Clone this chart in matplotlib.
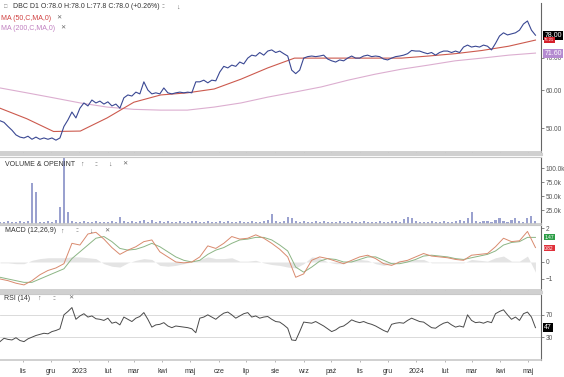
import matplotlib

matplotlib.use("Agg")
import matplotlib.pyplot as plt
import matplotlib.ticker as mticker
import pandas as pd

plt.rcParams["font.family"] = ["Liberation Sans", "DejaVu Sans"]

START = "2022-10-07"
END = "2024-05-09"
XLIM_END = "2024-05-15"

# cena zamknięcia (DBC, D1)
close = [
    51.8, 51.4, 50.4, 49.5, 48.4, 47.9, 47.7, 48.1, 47.4, 47.9,
    47.4, 47.7, 47.4, 47.7, 47.2, 47.7, 50.4, 52.0, 54.0, 52.5,
    55.0, 56.4, 55.6, 57.2, 56.4, 56.9, 56.1, 56.7, 55.6, 56.1,
    55.0, 57.8, 58.6, 58.3, 59.4, 58.9, 62.4, 60.0, 58.9, 59.2,
    58.9, 60.6, 59.2, 58.9, 59.2, 59.4, 59.2, 59.4, 59.2, 62.4,
    62.4, 62.9, 62.1, 62.9, 62.7, 65.4, 67.2, 66.7, 67.6, 67.2,
    68.6, 68.0, 69.9, 70.9, 70.6, 71.8, 70.9, 72.3, 72.7, 71.8,
    72.3, 71.4, 70.6, 66.0, 64.9, 66.0, 69.9, 70.4, 70.6, 70.4,
    70.6, 70.9, 69.6, 69.0, 68.6, 69.3, 69.0, 69.9, 70.6, 69.9,
    69.9, 70.6, 70.9, 70.4, 70.6, 70.4, 69.6, 69.3, 69.9, 70.4,
    70.6, 70.9, 71.4, 72.5, 72.3, 72.3, 71.8, 71.4, 71.8, 70.9,
    71.8, 72.3, 72.3, 71.8, 72.3, 71.8, 73.7, 74.4, 73.7, 74.0,
    73.7, 74.4, 74.0, 72.7, 75.0, 77.7, 78.9, 78.1, 78.5, 78.9,
    79.9, 82.3, 83.5, 79.9, 78.0,
]
ma50 = [
    55.0, 52.3, 49.2, 49.3, 52.5, 56.6, 58.6, 59.2, 60.3, 63.2,
    66.7, 69.9, 69.9, 69.9, 69.9, 69.9, 70.6, 71.4, 72.5, 74.0, 76.2,
]
ma200 = [
    60.6, 59.2, 57.8, 56.4, 55.3, 54.7, 54.5, 54.5, 55.3, 56.4,
    58.0, 59.4, 60.9, 62.9, 64.7, 66.3, 67.6, 69.0, 69.9, 70.9, 71.6,
]
volume_k = [
    4, 3, 5, 3, 4, 6, 3, 5, 73, 57,
    4, 3, 5, 4, 8, 30, 130, 22, 6, 4,
    3, 5, 3, 4, 6, 3, 4, 3, 5, 4,
    12, 5, 3, 6, 4, 5, 8, 4, 7, 4,
    6, 3, 5, 4, 3, 5, 4, 3, 6, 5,
    4, 3, 5, 4, 3, 6, 4, 5, 3, 4,
    5, 3, 4, 6, 4, 3, 5, 8, 18, 5,
    4, 6, 12, 10, 6, 4, 5, 3, 4, 6,
    3, 5, 4, 3, 4, 5, 3, 4, 6, 4,
    3, 5, 4, 3, 4, 5, 3, 4, 6, 5,
    4, 9, 12, 10, 5, 3, 4, 3, 5, 4,
    3, 6, 4, 3, 5, 7, 5, 10, 21, 6,
    4, 5, 6, 4, 7, 10, 5, 4, 8, 11,
    6, 4, 10, 14, 5,
]
macd_line = [
    -1.0, -1.1, -1.25, -1.35, -1.1, -0.75, -0.5, -0.35, -0.1, 1.1,
    1.0, 1.65, 1.75, 1.35, 0.85, 0.45, 0.7, 0.9, 1.2, 1.3,
    0.6, 0.3, 0.0, -0.05, 0.0, 0.3, 0.95, 0.8, 1.1, 1.5,
    1.35, 1.4, 1.6, 1.4, 1.1, 0.75, 0.3, -0.9, -0.7, 0.1,
    0.3, 0.2, 0.05, -0.1, 0.1, 0.3, 0.4, 0.2, -0.1, -0.2,
    0.0, 0.1, 0.3, 0.5, 0.35, 0.3, 0.25, 0.15, 0.1, 0.4,
    0.45, 0.5, 0.9, 1.4, 1.2, 1.25, 1.8, 0.85,
]
macd_signal = [
    -0.9, -1.0, -1.1, -1.2, -1.2, -1.0, -0.8, -0.6, -0.4, 0.2,
    0.6, 1.0, 1.4, 1.5, 1.2, 0.8, 0.7, 0.75, 0.9, 1.1,
    0.9, 0.6, 0.3, 0.1, 0.0, 0.1, 0.45, 0.7, 0.85, 1.1,
    1.3, 1.35, 1.45, 1.45, 1.3, 1.0, 0.65, -0.3, -0.6, -0.3,
    0.05, 0.2, 0.15, 0.0, 0.0, 0.15, 0.3, 0.3, 0.1, -0.1,
    -0.1, 0.0, 0.15, 0.35, 0.4, 0.35, 0.3, 0.2, 0.15, 0.25,
    0.35, 0.45, 0.65, 1.0, 1.15, 1.2, 1.45, 1.45,
]
macd_hist = [
    -0.05, -0.05, -0.1, -0.1, 0.1, 0.2, 0.25, 0.25, 0.25, 0.3,
    0.3, 0.25, 0.2, -0.1, -0.25, -0.3, -0.05, 0.1, 0.2, 0.15,
    -0.2, -0.25, -0.2, -0.1, 0.0, 0.15, 0.3, 0.2, 0.2, 0.25,
    0.05, 0.05, 0.1, -0.05, -0.15, -0.2, -0.3, -0.35, -0.1, 0.3,
    0.25, 0.0, -0.1, -0.1, 0.1, 0.15, 0.1, -0.1, -0.2, -0.1,
    0.1, 0.1, 0.15, 0.15, -0.05, -0.05, -0.05, -0.05, -0.05, 0.15,
    0.1, 0.05, 0.25, 0.35, 0.05, 0.05, 0.35, -0.6,
]
rsi = [
    22, 28, 26, 25, 29, 24, 22, 27, 30, 33,
    35, 37, 36, 40, 42, 45, 70, 76, 83, 62,
    68, 72, 66, 68, 63, 62, 60, 64, 55, 57,
    52, 66, 62, 58, 64, 67, 74, 62, 48, 52,
    53, 56, 50, 47, 50, 49, 48, 47, 45, 38,
    64, 66, 70, 66, 62, 68, 73, 75, 70, 64,
    68, 72, 74, 66, 68, 64, 66, 67, 62, 58,
    57, 52, 46, 25, 24, 40, 57, 56, 55, 58,
    54, 50, 45, 40, 43, 48, 50, 55, 61, 58,
    56, 58, 55, 53, 50, 46, 42, 39, 53, 55,
    56, 55, 60, 64, 61, 58, 57, 52, 47, 46,
    51, 55, 57, 52, 48, 50, 48, 70, 60, 56,
    57, 55, 58, 56, 72, 76, 79, 70, 62, 66,
    60, 72, 75, 66, 47,
]
month_labels = [
    "lis", "gru", "2023", "lut", "mar", "kwi", "maj", "cze", "lip", "sie",
    "wrz", "paź", "lis", "gru", "2024", "lut", "mar", "kwi", "maj",
]

W, H = 564, 377
GREY_TXT = "#555555"


def dates_for(values):
    return pd.date_range(START, END, periods=len(values))


def rect(top, bottom):
    return [0, 1 - bottom / H, 541 / W, (bottom - top) / H]


def ftext(x, y, s, **kw):
    kw.setdefault("fontsize", 5)
    kw.setdefault("color", "#333333")
    fig.text(x / W, 1 - y / H, s, va="center", ha="left", **kw)


def tag(ax, y, s, fc, fs=5, tc="white"):
    ax.text(1.006, y, s, transform=ax.get_yaxis_transform(), ha="left", va="center",
            fontsize=fs, color=tc, clip_on=False, zorder=10,
            bbox=dict(boxstyle="square,pad=0.15", fc=fc, ec="none"))


fig = plt.figure(figsize=(W / 100, H / 100), dpi=100)
ax_p = fig.add_axes(rect(3, 152))
ax_v = fig.add_axes(rect(157, 224), sharex=ax_p)
ax_m = fig.add_axes(rect(225, 290), sharex=ax_p)
ax_r = fig.add_axes(rect(294, 360), sharex=ax_p)

for ax in (ax_p, ax_v, ax_m, ax_r):
    ax.set_facecolor("white")
    ax.spines["left"].set_visible(False)
    ax.spines["right"].set_color("#666666")
    ax.spines["right"].set_linewidth(0.8)
    ax.spines["top"].set_color("#c8c8c8")
    ax.spines["bottom"].set_color("#c8c8c8")
    ax.spines["bottom"].set_linewidth(1.2)
    ax.yaxis.tick_right()
    ax.tick_params(axis="y", labelsize=4.7, colors=GREY_TXT, length=2, width=0.5, pad=1.2)
    ax.tick_params(axis="x", length=1.5, width=0.5, colors="#999999", labelbottom=False)
ax_p.spines["top"].set_visible(False)

# cena + średnie
ax_p.plot(dates_for(ma200), ma200, color="#dcaed0", lw=0.8)
ax_p.plot(dates_for(ma50), ma50, color="#cc5a4e", lw=0.8)
ax_p.plot(dates_for(close), close, color="#3a4893", lw=0.8)
ax_p.set_yscale("log")
ax_p.set_ylim(44.6, 91.0)
ax_p.yaxis.set_major_locator(mticker.FixedLocator([50, 60, 70]))
ax_p.yaxis.set_minor_locator(mticker.NullLocator())
ax_p.yaxis.set_major_formatter(mticker.FuncFormatter(lambda v, p: f"{v:.2f}"))
tag(ax_p, 78.0, "78.00", "black")
tag(ax_p, 76.2, "76.21", "#d6202a", fs=3)
tag(ax_p, 71.6, "71.60", "#b48ad0")

# wolumen
ax_v.bar(dates_for(volume_k), volume_k, width=2.2, color="#9aa1cf")
ax_v.set_ylim(0, 120)
ax_v.set_yticks([25, 50, 75, 100])
ax_v.yaxis.set_major_formatter(mticker.FuncFormatter(lambda v, p: f"{v:.1f}k"))

# MACD
d_m = dates_for(macd_line)
ax_m.fill_between(d_m, 0, macd_hist, color="#e4e4e4", lw=0)
ax_m.plot(d_m, macd_signal, color="#8cb585", lw=0.7)
ax_m.plot(d_m, macd_line, color="#d98a6e", lw=0.7)
ax_m.set_ylim(-1.65, 2.18)
ax_m.set_yticks([-1, 0, 2])
tag(ax_m, 1.47, "1.47", "#2e9e48", fs=3.5)
tag(ax_m, 0.82, "0.82", "#e0303a", fs=3.5)

# RSI
ax_r.axhline(70, color="#d5d5d5", lw=0.6)
ax_r.axhline(30, color="#d5d5d5", lw=0.6)
ax_r.plot(dates_for(rsi), rsi, color="#4a4a4a", lw=0.7)
ax_r.set_ylim(-10.9, 107.3)
ax_r.set_yticks([30, 70])
tag(ax_r, 47, "47", "black")

month_starts = pd.date_range("2022-11-01", "2024-05-01", freq="MS")
ax_r.set_xticks(month_starts)
ax_r.set_xticklabels(month_labels)
ax_r.tick_params(axis="x", labelbottom=True, labelsize=5, labelcolor="#333333", pad=4)
ax_r.set_xlim(pd.Timestamp(START), pd.Timestamp(XLIM_END))

# separatory paneli
for y in (154.5, 291.5):
    fig.add_artist(plt.Line2D([0, 541 / W], [1 - y / H, 1 - y / H], color="#d0d0d0", lw=2.2))

# nagłówki
ftext(4, 7, "\u25a1", fontsize=4, color="#888888")
ftext(13, 7, "DBC D1 O:78.0 H:78.0 L:77.8 C:78.0 (+0.26%)")
ftext(161, 7, "::", color="#666666")
ftext(176, 7, "\u2193", color="#666666")
ftext(1, 18, "MA (50,C,MA,0)", color="#d04040")
ftext(56, 18, "\u2715", fontsize=4.5, color="#666666")
ftext(1, 28, "MA (200,C,MA,0)", color="#c080c0")
ftext(60, 28, "\u2715", fontsize=4.5, color="#666666")
ftext(5, 164, "VOLUME & OPENINT")
ftext(80, 164, "\u2191", color="#666666")
ftext(94, 164, "::", color="#666666")
ftext(108, 164, "\u2193", color="#666666")
ftext(122, 164, "\u2715", fontsize=4.5, color="#666666")
ftext(5, 231, "MACD (12,26,9)")
ftext(60, 231, "\u2191", color="#666666")
ftext(75, 231, "::", color="#666666")
ftext(89, 231, "\u2193", color="#666666")
ftext(104, 231, "\u2715", fontsize=4.5, color="#666666")
ftext(4, 298, "RSI (14)")
ftext(37, 298, "\u2191", color="#666666")
ftext(52, 298, "::", color="#666666")
ftext(68, 298, "\u2715", fontsize=4.5, color="#666666")

fig.savefig("out.png", dpi=100)
